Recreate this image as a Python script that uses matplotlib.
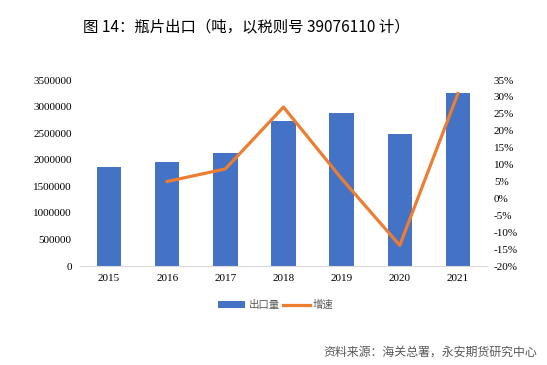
import matplotlib
matplotlib.use("Agg")
import matplotlib.pyplot as plt
from matplotlib.lines import Line2D
from matplotlib.patches import Patch

years = ["2015", "2016", "2017", "2018", "2019", "2020", "2021"]
export_vol = [1863000, 1957000, 2126000, 2728000, 2885000, 2484000, 3255000]
growth = [None, 5.0, 8.7, 27.0, 5.8, -13.9, 31.0]
left_ticks = [0, 500000, 1000000, 1500000, 2000000, 2500000, 3000000, 3500000]
right_ticks = [-20, -15, -10, -5, 0, 5, 10, 15, 20, 25, 30, 35]

plt.rcParams['font.family'] = ['Noto Sans CJK SC', 'DejaVu Sans']
serif = ['Liberation Serif', 'DejaVu Serif']

fig = plt.figure(figsize=(5.47, 3.65), dpi=100)
ax = fig.add_axes([80/547, 1-266/365, 407/547, 186/365])
x = list(range(len(years)))
ax.bar(x, export_vol, width=0.42, color='#4472C4', zorder=2)
ax.set_ylim(0, 3500000)
ax.set_xlim(-0.5, len(years)-0.5)
ax.set_yticks(left_ticks)
ax.set_yticklabels([str(v) for v in left_ticks], family=serif, fontsize=8)
ax.set_xticks(x)
ax.set_xticklabels(years, family=serif, fontsize=8)
for s in ['top', 'right', 'left']:
    ax.spines[s].set_visible(False)
ax.spines['bottom'].set_color('#D9D9D9')
ax.tick_params(axis='both', length=0, colors='#000000')
ax.tick_params(axis='y', pad=6)
ax.tick_params(axis='x', pad=6)

ax2 = ax.twinx()
gx = [i for i, g in zip(x, growth) if g is not None]
gy = [g for g in growth if g is not None]
ax2.plot(gx, gy, color='#ED7D31', linewidth=2.3, zorder=3)
ax2.set_ylim(-20, 35)
ax2.set_yticks(right_ticks)
ax2.set_yticklabels([f"{v}%" for v in right_ticks], family=serif, fontsize=8)
for s in ['top', 'right', 'left', 'bottom']:
    ax2.spines[s].set_visible(False)
ax2.tick_params(axis='y', length=0, pad=5)

fig.text(246/547, 1-27/365, "图 14：瓶片出口（吨，以税则号 39076110 计）", ha='center', va='center', fontsize=11.1, color='#000000')

handles = [Patch(facecolor='#4472C4', edgecolor='none'), Line2D([0], [0], color='#ED7D31', linewidth=2.3)]
leg = fig.legend(handles, ["出口量", "增速"], loc='center', bbox_to_anchor=(276/547, 1-305/365), ncol=2,
                 frameon=False, fontsize=7.5, handlelength=2.6, handleheight=0.6, columnspacing=0.3, handletextpad=0.3)
for t in leg.get_texts():
    t.set_color('#595959')

fig.text(537/547, 1-352/365, "资料来源：海关总署，永安期货研究中心", ha='right', va='center', fontsize=8.6, color='#595959')

fig.savefig("out.png", dpi=100, facecolor='white')
